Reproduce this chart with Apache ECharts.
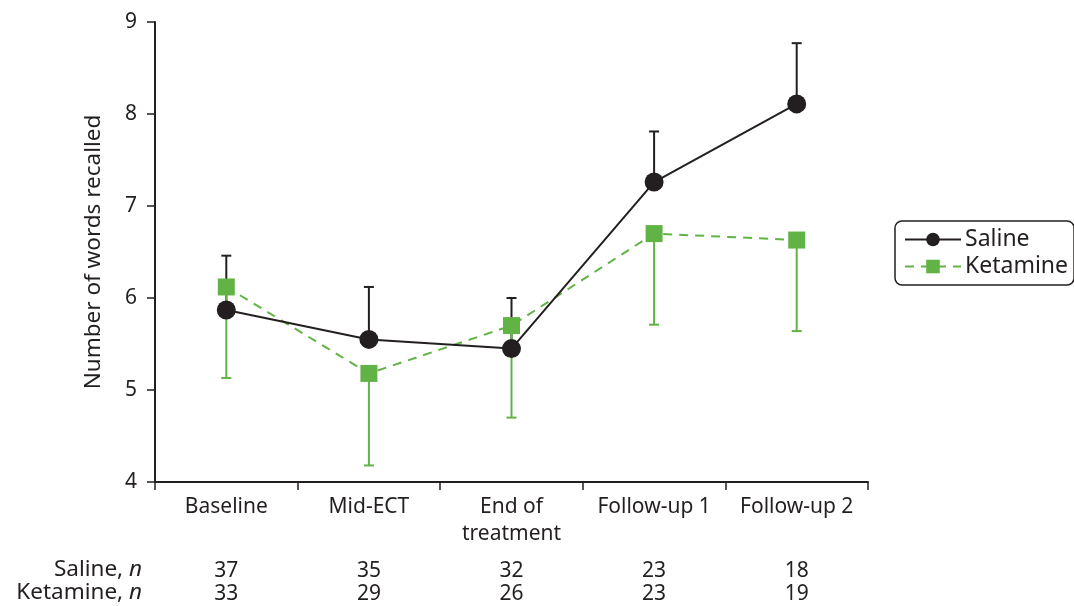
<!DOCTYPE html>
<html><head><meta charset="utf-8">
<script src="https://cdn.jsdelivr.net/npm/echarts@6/dist/echarts.min.js"></script>
<style>html,body{margin:0;padding:0;background:#fff}#c{width:1074px;height:606px}</style>
</head><body><div id="c"></div>
<script>
const categories = ['Baseline', 'Mid-ECT', 'End of\ntreatment', 'Follow-up 1', 'Follow-up 2'];
const salineMean = [5.87, 5.55, 5.45, 7.26, 8.11];
const salineUpper = [6.46, 6.12, 6.00, 7.81, 8.77];
const ketamineMean = [6.12, 5.18, 5.70, 6.70, 6.63];
const ketamineLower = [5.13, 4.18, 4.70, 5.71, 5.64];
const salineN = [37, 35, 32, 23, 18];
const ketamineN = [33, 29, 26, 23, 19];
const yTicks = [4, 5, 6, 7, 8, 9];

const BLACK = '#231f20', GREEN = '#62b346';
const FONT = '"Noto Sans", "Open Sans", sans-serif';
const FS = 21;

function errRender(color) {
  return function (params, api) {
    const x = api.value(0);
    const p1 = api.coord([x, api.value(1)]);
    const p2 = api.coord([x, api.value(2)]);
    const half = 5;
    const style = { stroke: color, lineWidth: 2 };
    return {
      type: 'group',
      children: [
        { type: 'line', shape: { x1: p1[0], y1: p1[1], x2: p2[0], y2: p2[1] }, style },
        { type: 'line', shape: { x1: p2[0] - half, y1: p2[1], x2: p2[0] + half, y2: p2[1] }, style }
      ]
    };
  };
}

const salineErr = categories.map((c, i) => [i, salineMean[i], salineUpper[i]]);
const ketErr = categories.map((c, i) => [i, ketamineMean[i], ketamineLower[i]]);

const chart = echarts.init(document.getElementById('c'));
const nAxis = (arr, offset) => ({
  type: 'category', data: arr, position: 'bottom', offset: offset,
  axisLine: { show: false }, axisTick: { show: false },
  axisLabel: { color: BLACK, fontSize: FS, fontFamily: FONT, margin: 8, interval: 0 }
});
const rich = { a: { fontSize: 22.5, fontFamily: FONT, fill: BLACK }, i: { fontSize: 22.5, fontFamily: FONT, fontStyle: 'italic', fill: BLACK } };
chart.setOption({
  animation: false,
  grid: { left: 155, right: 206, top: 22, bottom: 124 },
  textStyle: { fontFamily: FONT },
  legend: {
    orient: 'vertical', left: 895, top: 221,
    data: ['Saline', 'Ketamine'],
    itemWidth: 56, itemHeight: 17, itemGap: 4,
    padding: [7, 6, 7, 9],
    borderColor: BLACK, borderWidth: 1.5, borderRadius: 7,
    textStyle: { color: BLACK, fontSize: 23, fontFamily: FONT, padding: [0, 0, 0, -1] }
  },
  xAxis: [
    {
      type: 'category', data: categories,
      axisLine: { lineStyle: { color: BLACK, width: 2 } },
      axisTick: { show: true, length: 8, interval: 0, lineStyle: { color: BLACK, width: 1.5 } },
      axisLabel: { color: BLACK, fontSize: FS, fontFamily: FONT, margin: 12, lineHeight: 27, interval: 0 }
    },
    nAxis(salineN, 71),
    nAxis(ketamineN, 94)
  ],
  yAxis: {
    type: 'value', min: yTicks[0], max: yTicks[yTicks.length - 1], interval: 1,
    name: 'Number of words recalled', nameLocation: 'middle', nameGap: 50,
    nameTextStyle: { color: BLACK, fontSize: 22.5, fontFamily: FONT },
    axisLine: { show: true, lineStyle: { color: BLACK, width: 2 } },
    axisTick: { show: true, length: 8, lineStyle: { color: BLACK, width: 1.5 } },
    axisLabel: { color: BLACK, fontSize: FS, fontFamily: FONT, margin: 18 },
    splitLine: { show: false }
  },
  graphic: [
    { type: 'text', right: 1074 - 142, top: 558, style: { rich: rich, text: '{a|Saline, }{i|n}', align: 'right' } },
    { type: 'text', right: 1074 - 142, top: 581, style: { rich: rich, text: '{a|Ketamine, }{i|n}', align: 'right' } }
  ],
  series: [
    { type: 'custom', name: 'SalineErr', renderItem: errRender(BLACK), data: salineErr, z: 1, encode: { x: 0, y: [1, 2] } },
    { type: 'custom', name: 'KetErr', renderItem: errRender(GREEN), data: ketErr, z: 1, encode: { x: 0, y: [1, 2] } },
    {
      type: 'line', name: 'Ketamine', data: ketamineMean, symbol: 'rect', symbolSize: 17,
      lineStyle: { color: GREEN, width: 2, type: [9, 7] },
      itemStyle: { color: GREEN }, z: 3
    },
    {
      type: 'line', name: 'Saline', data: salineMean, symbol: 'circle', symbolSize: 19,
      lineStyle: { color: BLACK, width: 2 },
      itemStyle: { color: BLACK }, z: 4
    }
  ]
});
</script></body></html>
